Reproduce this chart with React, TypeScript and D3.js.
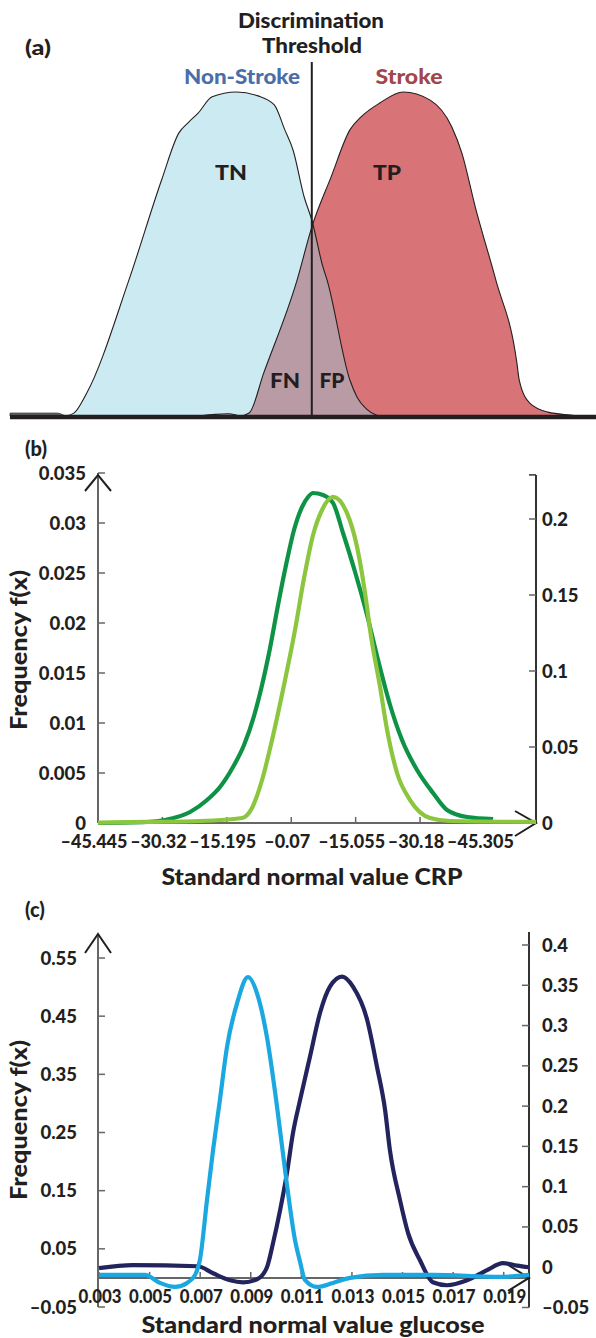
import React from "react";
import * as d3 from "d3";

// ---------- Panel (a): conceptual distributions (arbitrary score units 0..100, density 0..1)
const nonStrokeX = [9.4, 10.9, 13.1, 20.3, 25.9, 28.8, 30.5, 32.1, 34.5, 38.6, 42.3, 45.1, 46.9, 48.3, 50.2, 51.5, 53.4, 54.1, 58.0, 59.2, 60.8, 62.5, 63.1];
const nonStrokeY = [0, 0.009, 0.071, 0.42, 0.73, 0.873, 0.907, 0.935, 0.985, 1.0, 0.988, 0.96, 0.883, 0.821, 0.676, 0.605, 0.46, 0.42, 0.111, 0.059, 0.022, 0.003, 0];
const strokeX = [32.4, 35.0, 37.2, 38.6, 39.2, 40.8, 43.3, 49.0, 51.5, 54.8, 58.0, 59.9, 63.1, 67.1, 71.7, 75.4, 77.1, 79.4, 82.9, 86.5, 86.9, 88.7, 91.8, 95.6, 97.3];
const strokeY = [0, 0.005, 0.007, 0.003, 0, 0.009, 0.133, 0.42, 0.583, 0.738, 0.883, 0.923, 0.966, 1.0, 0.975, 0.892, 0.812, 0.645, 0.42, 0.164, 0.111, 0.04, 0.012, 0.003, 0];
const tailX = [0, 8.0, 9.4];
const tailY = [0.009, 0.009, 0];
const thresholdX = 51.5;

// ---------- Panel (b): CRP
const crpTickLabels = ["–45.445", "–30.32", "–15.195", "–0.07", "–15.055", "–30.18", "–45.305"];
const crpLeftTicks = [0, 0.005, 0.01, 0.015, 0.02, 0.025, 0.03, 0.035];
const crpLeftLabels = ["0", "0.005", "0.01", "0.015", "0.02", "0.025", "0.03", "0.035"];
const crpRightTicks = [0, 0.05, 0.1, 0.15, 0.2];
const crpRightLabels = ["0", "0.05", "0.1", "0.15", "0.2"];
const crpDarkX = [0, 0.761, 1.04, 1.429, 1.693, 1.894, 2.096, 2.267, 2.422, 2.547, 2.671, 2.795, 2.919, 3.043, 3.168, 3.261, 3.339, 3.494, 3.649, 3.804, 3.991, 4.177, 4.348, 4.534, 4.72, 4.953, 5.202, 5.419, 5.73, 6.134];
const crpDarkY = [0, 0.0001, 0.0003, 0.0011, 0.0023, 0.0036, 0.0056, 0.0078, 0.0107, 0.0138, 0.0175, 0.0218, 0.0258, 0.0293, 0.0316, 0.0326, 0.033, 0.0328, 0.032, 0.029, 0.0251, 0.0208, 0.0163, 0.0118, 0.0083, 0.0053, 0.003, 0.0013, 0.0006, 0.0004];
const crpLightX = [0, 0.807, 1.584, 2.236, 2.391, 2.547, 2.702, 2.888, 3.059, 3.199, 3.339, 3.478, 3.649, 3.866, 4.022, 4.177, 4.224, 4.379, 4.488, 4.643, 4.845, 5.155, 5.466, 6.801];
const crpLightY = [0.0003, 0.0007, 0.0013, 0.0033, 0.0099, 0.0283, 0.0546, 0.0908, 0.127, 0.1612, 0.1895, 0.2059, 0.2145, 0.2039, 0.1816, 0.1421, 0.127, 0.0895, 0.0612, 0.0329, 0.0151, 0.0033, 0.0013, 0.0007];

// ---------- Panel (c): glucose
const gluTicks = [0.003, 0.005, 0.007, 0.009, 0.011, 0.013, 0.015, 0.017, 0.019];
const gluTickLabels = ["0.003", "0.005", "0.007", "0.009", "0.011", "0.013", "0.015", "0.017", "0.019"];
const gluLeftTicks = [-0.05, 0.05, 0.15, 0.25, 0.35, 0.45, 0.55];
const gluLeftLabels = ["–0.05", "0.05", "0.15", "0.25", "0.35", "0.45", "0.55"];
const gluRightTicks = [-0.05, 0, 0.05, 0.1, 0.15, 0.2, 0.25, 0.3, 0.35, 0.4];
const gluRightLabels = ["–0.05", "0", "0.05", "0.1", "0.15", "0.2", "0.25", "0.3", "0.35", "0.4"];
const gluLightX = [0.003, 0.00482, 0.00541, 0.006, 0.00648, 0.0068, 0.00699, 0.00727, 0.00751, 0.00778, 0.00806, 0.00846, 0.00889, 0.00929, 0.00964, 0.01004, 0.01043, 0.01075, 0.01095, 0.01114, 0.01162, 0.01225, 0.01292, 0.01423, 0.0162, 0.01885, 0.02];
const gluLightY = [0.0052, 0.0052, -0.0086, -0.0155, -0.0086, 0.0052, 0.0309, 0.134, 0.22, 0.306, 0.397, 0.4725, 0.517, 0.483, 0.414, 0.294, 0.16, 0.065, 0.0275, -0.0034, -0.0155, -0.0086, 0, 0.0052, 0.0052, 0.0017, 0.0052];
const gluDarkX = [0.003, 0.00434, 0.00691, 0.00751, 0.00818, 0.00869, 0.00925, 0.00964, 0.00988, 0.01016, 0.01043, 0.01067, 0.01095, 0.01134, 0.01174, 0.01213, 0.01261, 0.01304, 0.0136, 0.01399, 0.01431, 0.0145, 0.0149, 0.01522, 0.01569, 0.0162, 0.01676, 0.01755, 0.01834, 0.01897, 0.01953, 0.02];
const gluDarkY = [-0.0012, 0.0025, 0.0012, -0.0075, -0.0162, -0.0187, -0.0149, 0, 0.0299, 0.0709, 0.1169, 0.1667, 0.2077, 0.2612, 0.3159, 0.3483, 0.3607, 0.3483, 0.3072, 0.2488, 0.1953, 0.1455, 0.0833, 0.0423, 0.0087, -0.0187, -0.0224, -0.0162, -0.0037, 0.005, 0.002, 0];

const zip = (xs: number[], ys: number[]) => xs.map((x, i) => [x, ys[i]] as [number, number]);

const FONT = "Lato, 'Open Sans', 'DejaVu Sans', sans-serif";
const INK = "#231F20";

export default function App() {
  // Panel (a) scales
  const xA = d3.scaleLinear().domain([0, 100]).range([10, 596]);
  const yA = d3.scaleLinear().domain([0, 1]).range([416, 92]);
  const areaA = d3
    .area<[number, number]>()
    .x((d) => xA(d[0]))
    .y0(yA(0))
    .y1((d) => yA(d[1]))
    .curve(d3.curveMonotoneX);
  const lineA = d3
    .line<[number, number]>()
    .x((d) => xA(d[0]))
    .y((d) => yA(d[1]))
    .curve(d3.curveMonotoneX);
  const nonStroke = zip(nonStrokeX, nonStrokeY);
  const stroke = zip(strokeX, strokeY);
  const tail = zip(tailX, tailY);

  // Panel (b) scales
  const xB = d3.scaleLinear().domain([0, 6.8]).range([98, 536]);
  const yBL = d3.scaleLinear().domain([0, 0.035]).range([823, 473]);
  const yBR = d3.scaleLinear().domain([0, 0.2]).range([823, 519]);
  const crpDark = zip(crpDarkX, crpDarkY);
  const crpLight = zip(crpLightX, crpLightY);
  const lineBL = d3.line<[number, number]>().x((d) => xB(d[0])).y((d) => yBL(d[1])).curve(d3.curveMonotoneX);
  const lineBR = d3.line<[number, number]>().x((d) => xB(d[0])).y((d) => yBR(d[1])).curve(d3.curveMonotoneX);

  // Panel (c) scales
  const xC = d3.scaleLinear().domain([0.003, 0.02]).range([99, 529]);
  const yCL = d3.scaleLinear().domain([-0.05, 0.55]).range([1307, 958]);
  const yCR = d3.scaleLinear().domain([-0.05, 0.4]).range([1307.5, 945]);
  const gluLight = zip(gluLightX, gluLightY);
  const gluDark = zip(gluDarkX, gluDarkY);
  const lineCL = d3.line<[number, number]>().x((d) => xC(d[0])).y((d) => yCL(d[1])).curve(d3.curveMonotoneX);
  const lineCR = d3.line<[number, number]>().x((d) => xC(d[0])).y((d) => yCR(d[1])).curve(d3.curveMonotoneX);

  const tickFont = { fontFamily: FONT, fontWeight: 900, fontSize: 18.5, fill: INK } as const;
  const titleFont = { fontFamily: FONT, fontWeight: 900, fontSize: 22, fill: INK } as const;
  const aFont = { fontFamily: FONT, fontWeight: 900, fontSize: 20, fill: INK } as const;

  const bZero = yBL(0);
  const cZero = yCL(0);

  return (
    <svg
      width={596}
      height={1338}
      viewBox="0 0 596 1338"
      style={{ position: "absolute", left: 0, top: 0, background: "#fff" }}
    >
      <defs>
        <clipPath id="nsClip">
          <path d={areaA(nonStroke) || ""} />
        </clipPath>
      </defs>

      {/* ---------------- Panel (a) ---------------- */}
      <text x={25} y={55} {...aFont} textLength={26} lengthAdjust="spacingAndGlyphs">(a)</text>
      <text x={311} y={28} textAnchor="middle" {...aFont} textLength={146} lengthAdjust="spacingAndGlyphs">Discrimination</text>
      <text x={312} y={53} textAnchor="middle" {...aFont} textLength={100} lengthAdjust="spacingAndGlyphs">Threshold</text>
      <text x={242} y={84} textAnchor="middle" {...aFont} fill="#4A6FA8" textLength={116} lengthAdjust="spacingAndGlyphs">Non-Stroke</text>
      <text x={409} y={84} textAnchor="middle" {...aFont} fill="#A1474C" textLength={67} lengthAdjust="spacingAndGlyphs">Stroke</text>

      <path d={areaA(tail) || ""} fill="#6d6e71" stroke="#333" strokeWidth={0.8} />
      <path d={areaA(nonStroke) || ""} fill="#CCEAF2" />
      <path d={areaA(stroke) || ""} fill="#D87377" />
      <path d={areaA(stroke) || ""} fill="#B99BA6" clipPath="url(#nsClip)" />
      <path d={lineA(nonStroke) || ""} fill="none" stroke={INK} strokeWidth={1.1} />
      <path d={lineA(stroke) || ""} fill="none" stroke={INK} strokeWidth={1.1} />

      <line x1={xA(thresholdX)} x2={xA(thresholdX)} y1={62} y2={yA(0)} stroke={INK} strokeWidth={2} />
      <line x1={xA(0)} x2={596} y1={yA(0) + 1} y2={yA(0) + 1} stroke={INK} strokeWidth={4.5} />

      <text x={231} y={180} textAnchor="middle" {...aFont} textLength={32} lengthAdjust="spacingAndGlyphs">TN</text>
      <text x={387} y={180} textAnchor="middle" {...aFont} textLength={28} lengthAdjust="spacingAndGlyphs">TP</text>
      <text x={285} y={388} textAnchor="middle" {...aFont} textLength={30} lengthAdjust="spacingAndGlyphs">FN</text>
      <text x={332} y={388} textAnchor="middle" {...aFont} textLength={25} lengthAdjust="spacingAndGlyphs">FP</text>

      {/* ---------------- Panel (b) ---------------- */}
      <text x={25} y={456} {...aFont}>(b)</text>

      {/* left axis */}
      <line x1={xB(0)} x2={xB(0)} y1={yBL(0.035)} y2={bZero} stroke="#666" strokeWidth={2} />
      {crpLeftTicks.map((t, i) => (
        <g key={"bl" + i}>
          <line x1={xB(0)} x2={xB(0) + 7} y1={yBL(t)} y2={yBL(t)} stroke="#666" strokeWidth={1.5} />
          <text x={86} y={yBL(t) + 6.5} textAnchor="end" {...tickFont}>{crpLeftLabels[i]}</text>
        </g>
      ))}
      <polyline
        points={`${xB(0) - 13},${yBL(0.035) + 18} ${xB(0)},${yBL(0.035) + 2} ${xB(0) + 13},${yBL(0.035) + 18}`}
        fill="none"
        stroke={INK}
        strokeWidth={2}
      />

      {/* right axis */}
      <line x1={xB(6.8)} x2={xB(6.8)} y1={yBR(0.229)} y2={bZero} stroke="#333" strokeWidth={2} />
      <line x1={xB(6.8) - 7} x2={xB(6.8)} y1={yBR(0.229)} y2={yBR(0.229)} stroke="#333" strokeWidth={1.5} />
      {crpRightTicks.map((t, i) => (
        <g key={"br" + i}>
          <line x1={xB(6.8) - 7} x2={xB(6.8)} y1={yBR(t)} y2={yBR(t)} stroke="#666" strokeWidth={1.5} />
          <text x={542} y={yBR(t) + 6.5} {...tickFont}>{crpRightLabels[i]}</text>
        </g>
      ))}

      {/* x axis */}
      <line x1={xB(0)} x2={xB(6.8)} y1={bZero} y2={bZero} stroke="#666" strokeWidth={2} />
      {crpTickLabels.map((lab, i) => (
        <g key={"bx" + i}>
          <line x1={xB(i)} x2={xB(i)} y1={bZero - 6} y2={bZero} stroke="#666" strokeWidth={1.5} />
          <text x={xB(i) - 4} y={bZero + 25} textAnchor="middle" {...tickFont} fontSize={18}>{lab}</text>
        </g>
      ))}
      <polyline
        points={`${xB(6.8) - 21},${bZero - 12} ${xB(6.8)},${bZero} ${xB(6.8) - 21},${bZero + 13}`}
        fill="none"
        stroke={INK}
        strokeWidth={2}
      />

      <path d={lineBL(crpDark) || ""} fill="none" stroke="#0E9346" strokeWidth={4.2} strokeLinejoin="round" />
      <path d={lineBR(crpLight) || ""} fill="none" stroke="#8CC63F" strokeWidth={4.2} strokeLinejoin="round" />

      <text x={312} y={885} textAnchor="middle" {...titleFont} textLength={301} lengthAdjust="spacingAndGlyphs">
        Standard normal value CRP
      </text>
      <text
        transform={`translate(27, 650) rotate(-90)`}
        textAnchor="middle"
        {...titleFont}
        textLength={160}
        lengthAdjust="spacingAndGlyphs"
      >
        Frequency f(x)
      </text>

      {/* ---------------- Panel (c) ---------------- */}
      <text x={25} y={917} {...aFont}>(c)</text>

      {/* left axis */}
      <line x1={xC(0.003) - 1} x2={xC(0.003) - 1} y1={935} y2={yCL(-0.05)} stroke="#666" strokeWidth={2} />
      {gluLeftTicks.map((t, i) => (
        <g key={"cl" + i}>
          <line x1={xC(0.003) - 1} x2={xC(0.003) + 6} y1={yCL(t)} y2={yCL(t)} stroke="#666" strokeWidth={1.5} />
          <text x={77} y={yCL(t) + 6.5} textAnchor="end" {...tickFont}>{gluLeftLabels[i]}</text>
        </g>
      ))}
      <polyline
        points={`${xC(0.003) - 14},953 ${xC(0.003) - 1},934 ${xC(0.003) + 12},953`}
        fill="none"
        stroke={INK}
        strokeWidth={2}
      />

      {/* right axis */}
      <line x1={xC(0.02)} x2={xC(0.02)} y1={932} y2={yCR(-0.05)} stroke="#333" strokeWidth={2} />
      {gluRightTicks.map((t, i) => (
        <g key={"cr" + i}>
          <line x1={xC(0.02) - 7} x2={xC(0.02)} y1={yCR(t)} y2={yCR(t)} stroke="#666" strokeWidth={1.5} />
          <text x={542} y={yCR(t) + 6.5} {...tickFont}>{gluRightLabels[i]}</text>
        </g>
      ))}

      {/* x axis */}
      <line x1={xC(0.003)} x2={xC(0.02)} y1={cZero} y2={cZero} stroke="#666" strokeWidth={2} />
      {gluTicks.map((t, i) => (
        <g key={"cx" + i}>
          <line x1={xC(t)} x2={xC(t)} y1={cZero - 6} y2={cZero} stroke="#666" strokeWidth={1.5} />
          <text
            x={xC(t) + 1}
            y={cZero + 25}
            textAnchor="middle"
            {...tickFont}
            fontSize={19}
            textLength={43}
            lengthAdjust="spacingAndGlyphs"
          >
            {gluTickLabels[i]}
          </text>
        </g>
      ))}
      <polyline
        points={`${xC(0.02) - 21},${cZero - 13} ${xC(0.02)},${cZero} ${xC(0.02) - 21},${cZero + 13}`}
        fill="none"
        stroke={INK}
        strokeWidth={2}
      />

      <path d={lineCR(gluDark) || ""} fill="none" stroke="#23245E" strokeWidth={4.2} strokeLinejoin="round" />
      <path d={lineCL(gluLight) || ""} fill="none" stroke="#1BA7E0" strokeWidth={4.2} strokeLinejoin="round" />

      <text x={313} y={1333} textAnchor="middle" {...titleFont} textLength={343} lengthAdjust="spacingAndGlyphs">
        Standard normal value glucose
      </text>
      <text
        transform={`translate(27, 1120) rotate(-90)`}
        textAnchor="middle"
        {...titleFont}
        textLength={160}
        lengthAdjust="spacingAndGlyphs"
      >
        Frequency f(x)
      </text>
    </svg>
  );
}
